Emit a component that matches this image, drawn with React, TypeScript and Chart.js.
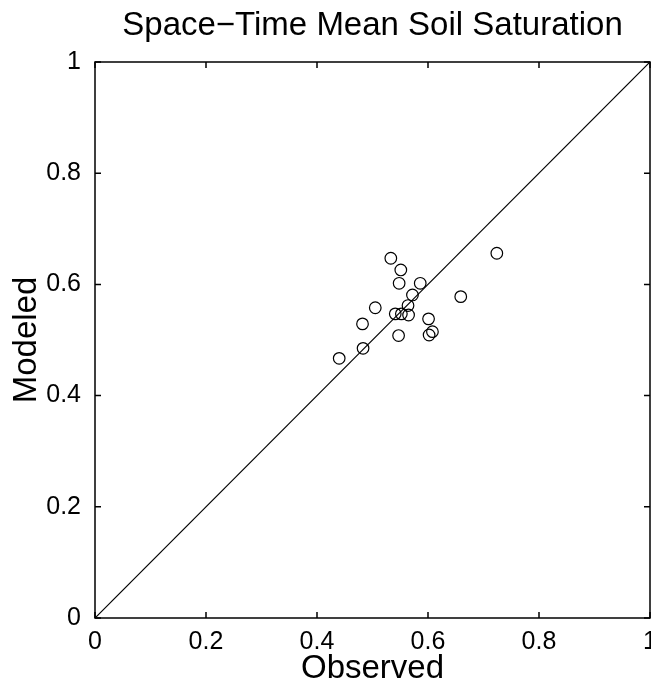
import React, { useEffect, useRef } from 'react';
import { Chart, registerables } from 'chart.js';

Chart.register(...registerables);

const observed = [0.533, 0.551, 0.548, 0.586, 0.724, 0.572, 0.659, 0.564, 0.505, 0.541, 0.552, 0.565, 0.482, 0.601, 0.608, 0.602, 0.547, 0.483, 0.44];
const modeled = [0.647, 0.626, 0.602, 0.602, 0.656, 0.581, 0.578, 0.562, 0.558, 0.547, 0.547, 0.545, 0.529, 0.538, 0.515, 0.509, 0.508, 0.485, 0.467];
const identityLine = [0, 1];
const tickValues = [0, 0.2, 0.4, 0.6, 0.8, 1];
const tickLabels = ['0', '0.2', '0.4', '0.6', '0.8', '1'];
const chartTitle = 'Space\u2212Time Mean Soil Saturation';
const xTitle = 'Observed';
const yTitle = 'Modeled';

const FONT = '"Liberation Sans", Arial, Helvetica, sans-serif';

const boxPlugin = {
  id: 'matlabBox',
  afterDatasetsDraw(chart: any) {
    const { ctx, chartArea: a, scales } = chart;
    const x = scales.x;
    const y = scales.y;
    ctx.save();
    ctx.strokeStyle = '#000';
    ctx.lineWidth = 1.5;
    ctx.strokeRect(a.left, a.top, a.right - a.left, a.bottom - a.top);
    const L = 6;
    ctx.beginPath();
    tickValues.forEach((v) => {
      const px = x.getPixelForValue(v);
      const py = y.getPixelForValue(v);
      ctx.moveTo(px, a.bottom);
      ctx.lineTo(px, a.bottom - L);
      ctx.moveTo(px, a.top);
      ctx.lineTo(px, a.top + L);
      ctx.moveTo(a.left, py);
      ctx.lineTo(a.left + L, py);
      ctx.moveTo(a.right, py);
      ctx.lineTo(a.right - L, py);
    });
    ctx.stroke();
    ctx.restore();
  },
};

export default function App() {
  const ref = useRef<HTMLCanvasElement>(null);
  useEffect(() => {
    if (!ref.current) return;
    Chart.defaults.font.family = FONT;
    Chart.defaults.color = '#000';
    const chart = new Chart(ref.current, {
      type: 'scatter',
      data: {
        datasets: [
          {
            label: 'Sites',
            data: observed.map((o, i) => ({ x: o, y: modeled[i] })),
            pointStyle: 'circle',
            pointRadius: 5.8,
            pointBorderWidth: 1.2,
            borderColor: '#000',
            backgroundColor: 'rgba(0,0,0,0)',
            pointBackgroundColor: 'rgba(0,0,0,0)',
            pointBorderColor: '#000',
          },
          {
            type: 'line',
            label: '1:1',
            data: identityLine.map((v) => ({ x: v, y: v })),
            borderColor: '#000',
            borderWidth: 1.2,
            pointRadius: 0,
            showLine: true,
            fill: false,
          } as any,
        ],
      },
      options: {
        responsive: false,
        animation: false,
        layout: { autoPadding: false, padding: { left: 0, right: 1, top: 0, bottom: 0 } },
        plugins: {
          legend: { display: false },
          tooltip: { enabled: false },
          title: { display: false },
        },
        scales: {
          x: {
            type: 'linear',
            position: 'bottom',
            min: 0,
            max: 1,
            afterBuildTicks: (s: any) => {
              s.ticks = tickValues.map((v) => ({ value: v }));
            },
            afterFit: (s: any) => {
              s.height = 64;
              s.paddingLeft = 0;
              s.paddingRight = 0;
            },
            ticks: {
              padding: 1,
              maxRotation: 0,
              autoSkip: false,
              font: { family: FONT, size: 25 },
              color: '#000',
              callback: (_v: any, i: number) => tickLabels[i],
            },
            grid: { display: false },
            border: { display: false },
            title: {
              display: true,
              text: xTitle,
              color: '#000',
              font: { family: FONT, size: 33, lineHeight: 0.8 },
              padding: { top: 0, bottom: 0 },
            },
          },
          x2: {
            type: 'linear',
            position: 'top',
            min: 0,
            max: 1,
            afterFit: (s: any) => {
              s.height = 62;
              s.paddingLeft = 0;
              s.paddingRight = 0;
            },
            ticks: { display: false },
            grid: { display: false },
            border: { display: false },
            title: {
              display: true,
              text: chartTitle,
              color: '#000',
              font: { family: FONT, size: 33, lineHeight: 1.2 },
              padding: { top: 6, bottom: 0 },
            },
          },
          y: {
            type: 'linear',
            min: 0,
            max: 1,
            afterBuildTicks: (s: any) => {
              s.ticks = tickValues.map((v) => ({ value: v }));
            },
            afterFit: (s: any) => {
              s.width = 95;
              s.paddingTop = 0;
              s.paddingBottom = 0;
            },
            ticks: {
              padding: 6,
              autoSkip: false,
              font: { family: FONT, size: 25 },
              color: '#000',
              callback: (_v: any, i: number) => tickLabels[i],
            },
            grid: { display: false },
            border: { display: false },
            title: {
              display: true,
              text: yTitle,
              color: '#000',
              font: { family: FONT, size: 33, lineHeight: 1.2 },
              padding: { top: 7, bottom: 0 },
            },
          },
        },
      },
      plugins: [boxPlugin],
    } as any);
    return () => chart.destroy();
  }, []);
  return (
    <div style={{ position: 'absolute', left: 0, top: 0, width: 651, height: 682 }}>
      <canvas ref={ref} width={651} height={682} style={{ display: 'block' }} />
    </div>
  );
}
